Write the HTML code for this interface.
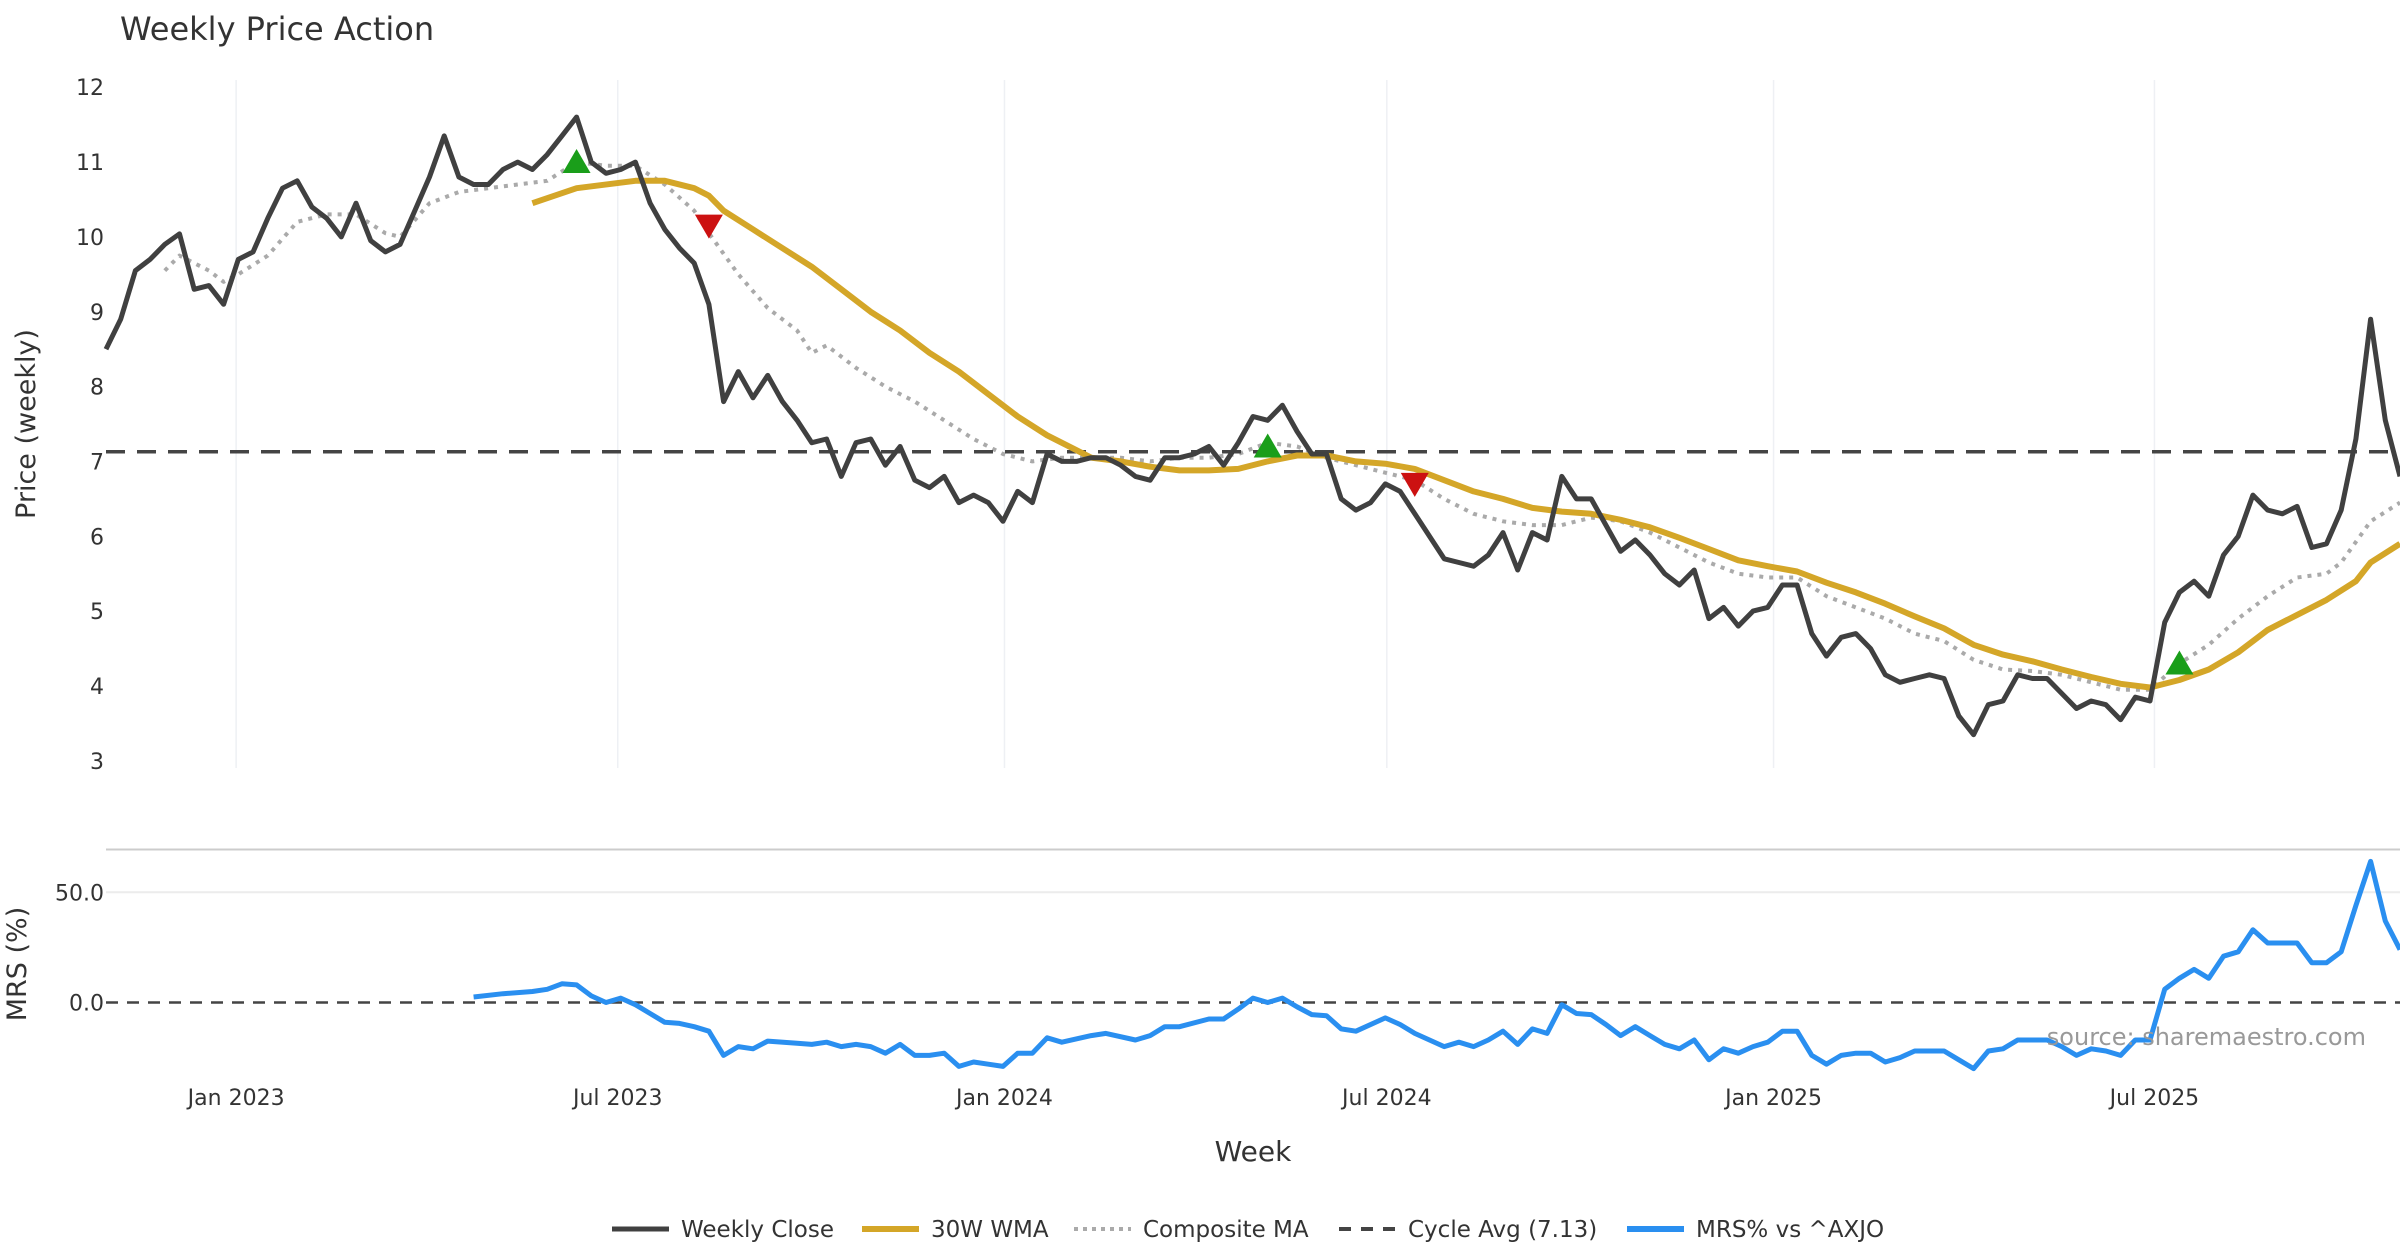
<!DOCTYPE html>
<html><head><meta charset="utf-8"><style>
html,body{margin:0;padding:0;background:#fff;}
svg{display:block;font-family:"DejaVu Sans","Liberation Sans",sans-serif;}
</style></head><body>
<svg id="chart" width="2400" height="1260" viewBox="0 0 2400 1260" xmlns="http://www.w3.org/2000/svg">
<text x="120" y="40" font-size="32" fill="#333">Weekly Price Action</text>
<g id="grid"></g><g id="series"></g><g id="axes"></g>
<text transform="translate(35,424) rotate(-90)" text-anchor="middle" font-size="27" fill="#333">Price (weekly)</text>
<text transform="translate(26,964) rotate(-90)" text-anchor="middle" font-size="27" fill="#333">MRS (%)</text>
<text x="1253" y="1161" text-anchor="middle" font-size="28" fill="#333">Week</text>
<text x="2366" y="1045" text-anchor="end" font-size="24" fill="#999">source: sharemaestro.com</text>
<g id="legend"></g>
</svg>
<script>
const closeVals=[8.5,8.9,9.55,9.7,9.9,10.04,9.3,9.35,9.1,9.7,9.8,10.25,10.65,10.75,10.4,10.25,10.0,10.45,9.95,9.8,9.9,10.35,10.8,11.35,10.8,10.7,10.7,10.9,11.0,10.9,11.1,11.35,11.6,11.0,10.85,10.9,11.0,10.45,10.1,9.85,9.65,9.1,7.8,8.2,7.85,8.15,7.8,7.55,7.25,7.3,6.8,7.25,7.3,6.95,7.2,6.75,6.65,6.8,6.45,6.55,6.45,6.2,6.6,6.45,7.1,7.0,7.0,7.05,7.05,6.95,6.8,6.75,7.05,7.05,7.1,7.2,6.95,7.25,7.6,7.55,7.75,7.4,7.1,7.1,6.5,6.35,6.45,6.7,6.6,6.3,6.0,5.7,5.65,5.6,5.75,6.05,5.55,6.05,5.95,6.8,6.5,6.5,6.15,5.8,5.95,5.75,5.5,5.35,5.55,4.9,5.05,4.8,5.0,5.05,5.35,5.35,4.7,4.4,4.65,4.7,4.5,4.15,4.05,4.1,4.15,4.1,3.6,3.35,3.75,3.8,4.15,4.1,4.1,3.9,3.7,3.8,3.75,3.55,3.85,3.8,4.85,5.25,5.4,5.2,5.75,6.0,6.55,6.35,6.3,6.4,5.85,5.9,6.35,7.3,8.9,7.55,6.8];
const wmaWeeks=[29,32,36,38,40,41,42,44,46,48,50,52,54,56,58,60,62,64,66,67,69,71,73,75,77,79,81,83,85,87,89,91,93,95,97,99,101,103,105,107,109,111,113,115,117,119,121,123,125,127,129,131,133,135,137,139,141,143,145,147,149,151,153,154,156];
const wmaVals=[10.45,10.65,10.75,10.75,10.65,10.55,10.35,10.1,9.85,9.6,9.3,9.0,8.75,8.45,8.2,7.9,7.6,7.35,7.15,7.05,7.0,6.93,6.88,6.88,6.9,7.0,7.08,7.08,7.0,6.97,6.9,6.75,6.6,6.5,6.38,6.33,6.3,6.22,6.12,5.98,5.83,5.68,5.6,5.53,5.38,5.25,5.1,4.93,4.77,4.55,4.42,4.33,4.22,4.12,4.03,3.98,4.08,4.22,4.45,4.75,4.95,5.15,5.4,5.65,5.9];
const compWeeks=[4,5,7,8,9,11,13,15,17,19,20,22,24,26,28,30,32,34,36,38,40,41,43,45,47,48,49,51,53,55,57,59,61,63,65,67,69,71,73,75,77,79,81,83,85,87,89,91,93,95,97,99,101,103,105,107,109,111,113,115,117,119,121,123,125,127,129,131,133,135,137,139,141,143,145,147,149,151,152,154,156];
const compVals=[9.55,9.75,9.55,9.4,9.5,9.75,10.2,10.3,10.3,10.05,10.0,10.45,10.6,10.65,10.7,10.75,11.0,10.95,10.95,10.7,10.35,10.05,9.5,9.05,8.75,8.45,8.55,8.25,8.0,7.8,7.55,7.3,7.1,7.0,7.05,7.05,7.05,7.0,7.05,7.05,7.1,7.25,7.2,7.05,6.95,6.85,6.75,6.5,6.3,6.2,6.15,6.15,6.25,6.2,6.05,5.85,5.65,5.5,5.45,5.45,5.2,5.05,4.9,4.7,4.6,4.35,4.22,4.2,4.15,4.05,3.95,3.95,4.3,4.55,4.9,5.2,5.45,5.5,5.65,6.2,6.45];
const mrsWeeks=[25,27,29,30,31,32,33,34,35,36,37,38,39,40,41,42,43,44,45,47,48,49,50,51,52,53,54,55,56,57,58,59,60,61,62,63,64,65,67,68,70,71,72,73,75,76,77,78,79,80,81,82,83,84,85,87,88,89,91,92,93,94,95,96,97,98,99,100,101,102,103,104,105,106,107,108,109,110,111,112,113,114,115,116,117,118,119,120,121,122,123,125,126,127,128,129,130,132,133,134,135,136,137,138,139,140,141,142,143,144,145,146,147,149,150,151,152,153,154,155,156];
const mrsVals=[2.5,4,5,6,8.5,8,3,0,2,-1,-5,-9,-9.5,-11,-13,-24,-20,-21,-17.5,-18.5,-19,-18,-20,-19,-20,-23,-19,-24,-24,-23,-29,-27,-28,-29,-23,-23,-16,-18,-15,-14,-17,-15,-11,-11,-7.5,-7.5,-3,2,0,2,-2,-5.5,-6,-12,-13,-7,-10,-14,-20,-18,-20,-17,-13,-19,-12,-14,-1,-5,-5.5,-10,-15,-11,-15,-19,-21,-17,-26,-21,-23,-20,-18,-13,-13,-24,-28,-24,-23,-23,-27,-25,-22,-22,-26,-30,-22,-21,-17,-17,-20,-24,-21,-22,-24,-17,-17,6,11,15,11,21,23,33,27,27,18,18,23,44,64,37,24];
const buyWeeks=[32,79,141];
const buyVals=[11.0,7.2,4.3];
const sellWeeks=[41,89];
const sellVals=[10.15,6.7];
const cycleAvg=7.13;
const priceTicks=[3,4,5,6,7,8,9,10,11,12];
const mrsTicks=[0,50];
const mrsTickLabels=["0.0","50.0"];
const dateTickWeeks=[8.85,34.8,61.1,87.1,113.4,139.3];
const dateTickLabels=["Jan 2023","Jul 2023","Jan 2024","Jul 2024","Jan 2025","Jul 2025"];

const NS="http://www.w3.org/2000/svg";
const X0=106,X1=2400,NW=156;
const x=i=>X0+i*(X1-X0)/NW;
const yP=v=>87.2+(12-v)*74.85;
const yM=v=>1002.5-v*2.204;
function mk(tag,attrs,parent){const e=document.createElementNS(NS,tag);for(const k in attrs)e.setAttribute(k,attrs[k]);parent.appendChild(e);return e;}
const grid=document.getElementById('grid'),ser=document.getElementById('series'),axes=document.getElementById('axes'),leg=document.getElementById('legend');

dateTickWeeks.forEach((w,k)=>{
  const l=mk('line',{x1:x(w),x2:x(w),y1:80,y2:768,stroke:'#eef0f4','stroke-width':1.5},grid);
  
  
  const t=mk('text',{x:x(w),y:1105,'text-anchor':'middle','font-size':22,fill:'#333'},axes);
  t.textContent=dateTickLabels[k];
  
  
});
priceTicks.forEach(v=>{
  const t=mk('text',{x:104,y:yP(v)+8,'text-anchor':'end','font-size':22,fill:'#333'},axes);
  t.textContent=v;
  
  
});
const sep=mk('line',{x1:X0,x2:X1,y1:849.5,y2:849.5,stroke:'#ccc','stroke-width':2},grid);


mrsTicks.forEach((v,k)=>{
  if(v!==0){const g=mk('line',{x1:X0,x2:X1,y1:yM(v),y2:yM(v),stroke:'#ececec','stroke-width':2},grid);
  
  }
  const t=mk('text',{x:104,y:yM(v)+8,'text-anchor':'end','font-size':22,fill:'#333'},axes);
  t.textContent=mrsTickLabels[k];
  
  
});
const zl=mk('line',{x1:X0,x2:X1,y1:yM(0),y2:yM(0),stroke:'#444','stroke-width':2.5,'stroke-dasharray':'12,9'},ser);



function poly(ws,vs,yf,attrs,name){
  const pts=ws.map((w,i)=>x(w).toFixed(1)+','+yf(vs[i]).toFixed(1)).join(' ');
  const p=mk('polyline',Object.assign({points:pts,fill:'none','stroke-linejoin':'round'},attrs),ser);
  
  
}
poly(compWeeks,compVals,yP,{stroke:'#aaaaaa','stroke-width':4,'stroke-dasharray':'4,6'},'composite-ma-line');
const ca=mk('line',{x1:X0,x2:X1,y1:yP(cycleAvg),y2:yP(cycleAvg),stroke:'#444','stroke-width':3.5,'stroke-dasharray':'19,12'},ser);


poly(wmaWeeks,wmaVals,yP,{stroke:'#d4a628','stroke-width':6},'wma-30w-line');
poly(closeVals.map((v,i)=>i),closeVals,yP,{stroke:'#404040','stroke-width':5},'weekly-close-line');
poly(mrsWeeks,mrsVals,yM,{stroke:'#2a8ff0','stroke-width':5},'mrs-line');
buyWeeks.forEach((w,i)=>{const cx=x(w),cy=yP(buyVals[i]);
  const t=mk('polygon',{points:`${cx-14},${cy+11} ${cx+14},${cy+11} ${cx},${cy-13}`,fill:'#1a9e1a'},ser);
  
  });
sellWeeks.forEach((w,i)=>{const cx=x(w),cy=yP(sellVals[i]);
  const t=mk('polygon',{points:`${cx-14},${cy-11} ${cx+14},${cy-11} ${cx},${cy+13}`,fill:'#cc1111'},ser);
  
  });

const legItems=[[612,'Weekly Close',{stroke:'#404040','stroke-width':5}],[862,'30W WMA',{stroke:'#d4a628','stroke-width':6}],[1074,'Composite MA',{stroke:'#aaa','stroke-width':4,'stroke-dasharray':'4,5'}],[1339,'Cycle Avg (7.13)',{stroke:'#444','stroke-width':4,'stroke-dasharray':'12,10'}],[1627,'MRS% vs ^AXJO',{stroke:'#2a8ff0','stroke-width':6}]];
legItems.forEach(it=>{
  const l=mk('line',Object.assign({x1:it[0],x2:it[0]+57,y1:1229,y2:1229},it[2]),leg);
  
  
  const t=mk('text',{x:it[0]+69,y:1237,'font-size':23,fill:'#333'},leg);
  t.textContent=it[1];
  
  
});
</script>
</body></html>
